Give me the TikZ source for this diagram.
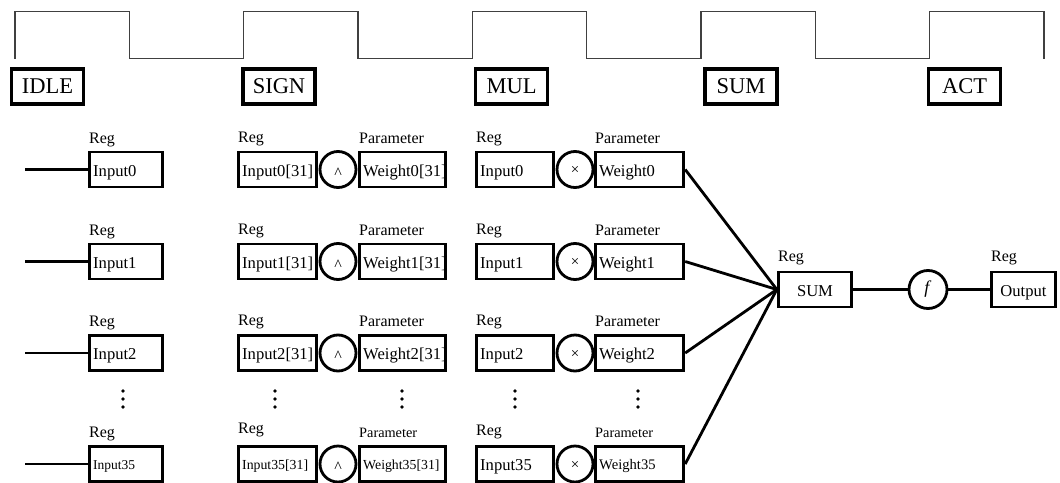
\documentclass[tikz,border=0pt]{standalone}
\usepackage{fontspec}
\setmainfont{Liberation Serif}
\newcommand{\fs}[1]{\fontsize{#1}{#1}\selectfont}
\newcommand{\opglyph}[2]{\smash{\raisebox{#1}{#2}}}
\begin{document}
\begin{tikzpicture}[x=1pt,y=-1pt,
  wave/.style={line width=1.5pt, draw=black!75, line join=miter},
  state/.style={draw, line width=3.6pt, minimum width=72pt, minimum height=35.5pt, inner sep=0pt, font=\fs{22.5}},
  regbox/.style={draw, line width=2.8pt, minimum height=35pt, inner xsep=4pt, inner ysep=0pt, align=left, text height=13pt, text depth=0pt, font=\fs{16.6}},
  smallbox/.style={regbox, text height=10pt, font=\fs{13.8}},
  op/.style={draw, circle, line width=2.8pt, minimum size=36pt, inner sep=0pt},
  tag/.style={anchor=base west, inner sep=0pt, font=\fs{16}},
  wire/.style={line width=2.8pt},
  dotmark/.style={fill=black}
]
\useasboundingbox (0,0) rectangle (1060,482);

% clock waveform
\draw[wave] (15,58.5) -- (15,11.5) -- (129.3,11.5) -- (129.3,58.5) -- (243.7,58.5) -- (243.7,11.5)
  -- (358,11.5) -- (358,58.5) -- (472.3,58.5) -- (472.3,11.5) -- (586.7,11.5) -- (586.7,58.5)
  -- (701,58.5) -- (701,11.5) -- (815.3,11.5) -- (815.3,58.5) -- (929.7,58.5) -- (929.7,11.5)
  -- (1044,11.5) -- (1044,58.5);

% state labels
\node[state] (idle) at (47.5,86.5) {IDLE};
\node[state] (sign) at (279,86.5) {SIGN};
\node[state] (mul)  at (511.5,86.5) {MUL};
\node[state] (sumst) at (741,86.5) {SUM};
\node[state] (act)  at (964.5,86.5) {ACT};

% sum / activation / output
\node[regbox, align=center, text width=65.6pt] (sum) at (815,289.5) {SUM};
\node[tag] (tsum) at (778,261) {Reg};
\node[op, minimum size=38pt] (fn) at (928,289.5) {\fs{18}\opglyph{-4.2pt}{\textit{f}}};
\node[regbox, align=center, text width=56.6pt] (out) at (1023.5,289.5) {Output};
\node[tag] (tout) at (991,261) {Reg};
\draw[wire] (sum.east) -- (fn.west);
\draw[wire] (fn.east) -- (out.west);

% rows 0..2
\foreach \i/\y in {0/169.5, 1/261.5, 2/353}{
  \coordinate (s\i) at (25,\y);
  \node[regbox, text width=65.6pt] (a\i) at (126,\y) {Input\i};
  \node[tag] (ta\i) at (89,\y-26.5) {Reg};
  \draw[wire] (s\i) -- (a\i.west);
  \node[regbox, text width=70.6pt] (bi\i) at (277.5,\y) {Input\i[31]};
  \node[op] (bx\i) at (338,\y) {\fs{16}\opglyph{-8.5pt}{\textasciicircum}};
  \node[regbox, text width=78.6pt] (bw\i) at (402.5,\y) {Weight\i[31]};
  \node[tag] (tbi\i) at (238,\y-27.5) {Reg};
  \node[tag] (tbw\i) at (359,\y-26.5) {Parameter};
  \node[regbox, text width=69.6pt] (ci\i) at (515,\y) {Input\i};
  \node[op] (cx\i) at (575,\y) {\fs{15}\opglyph{-5.2pt}{×}};
  \node[regbox, text width=80.6pt] (cw\i) at (639.5,\y) {Weight\i};
  \node[tag] (tci\i) at (476,\y-27.5) {Reg};
  \node[tag] (tcw\i) at (595,\y-26.5) {Parameter};
  \draw[wire] (cw\i.east) -- (sum.west);
}

% dots
\foreach \x in {123,275,402,515,638}{
  \foreach \d in {391,399,407}{
    \fill[dotmark] (\x,\d) circle (1.8);
  }
}

% row 35
\coordinate (s35) at (25,464);
\node[smallbox, font=\fs{13.5}, text width=65.6pt] (a35) at (126,464) {Input35};
\node[tag] (ta35) at (89,437) {Reg};
\draw[wire] (s35) -- (a35.west);
\node[smallbox, text width=70.6pt] (bi35) at (277.5,464) {Input35[31]};
\node[op] (bx35) at (338,464) {\fs{16}\opglyph{-8.5pt}{\textasciicircum}};
\node[smallbox, text width=78.6pt] (bw35) at (402.5,464) {Weight35[31]};
\node[tag] (tbi35) at (238,433) {Reg};
\node[tag, font=\fs{14.3}] (tbw35) at (359,437) {Parameter};
\node[regbox, text width=69.6pt] (ci35) at (515,464) {Input35};
\node[op] (cx35) at (575,464) {\fs{15}\opglyph{-5.2pt}{×}};
\node[smallbox, font=\fs{14.6}, text width=80.6pt] (cw35) at (639.5,464) {Weight35};
\node[tag] (tci35) at (476,435) {Reg};
\node[tag, font=\fs{14.3}] (tcw35) at (595,437) {Parameter};
\draw[wire] (cw35.east) -- (sum.west);
\end{tikzpicture}
\end{document}
